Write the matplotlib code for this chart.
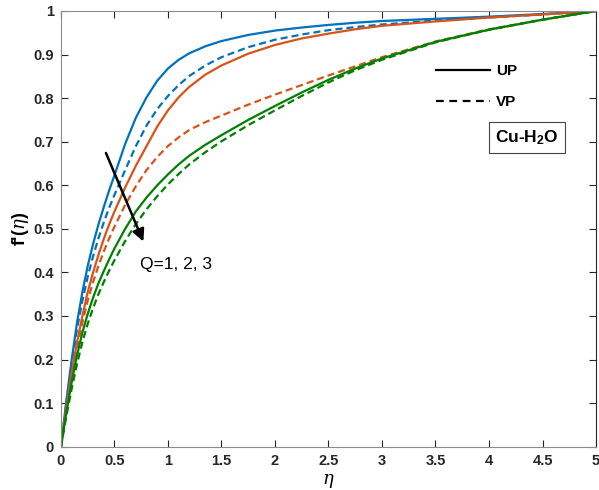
import matplotlib
matplotlib.use("Agg")
import matplotlib.pyplot as plt
from matplotlib.lines import Line2D

plt.rcParams['font.family'] = ['Liberation Sans', 'DejaVu Sans']
plt.rcParams['mathtext.fontset'] = 'custom'
plt.rcParams['mathtext.rm'] = 'Liberation Sans'
plt.rcParams['mathtext.bf'] = 'Liberation Sans:bold'
plt.rcParams['mathtext.it'] = 'DejaVu Serif:italic'

# eta values the curves were read at
eta = [0, 0.05, 0.1, 0.15, 0.2, 0.25, 0.3, 0.35, 0.4, 0.45, 0.5, 0.6, 0.7, 0.8, 0.9,
       1.0, 1.1, 1.2, 1.35, 1.5, 1.75, 2.0, 2.25, 2.5, 2.75, 3.0, 3.5, 4.0, 4.5, 5.0]

# Q=1 (blue), Q=2 (orange), Q=3 (green); UP solid, VP dashed
q1_up = [0, 0.105, 0.20, 0.285, 0.355, 0.415, 0.465, 0.51, 0.55, 0.588, 0.623, 0.695,
         0.755, 0.802, 0.84, 0.868, 0.888, 0.903, 0.919, 0.931, 0.945, 0.955, 0.962,
         0.968, 0.973, 0.977, 0.982, 0.987, 0.993, 1.0]
q1_vp = [0, 0.10, 0.19, 0.27, 0.335, 0.39, 0.437, 0.478, 0.515, 0.548, 0.578, 0.635,
         0.69, 0.737, 0.775, 0.805, 0.83, 0.851, 0.875, 0.894, 0.917, 0.934, 0.946,
         0.956, 0.963, 0.969, 0.978, 0.985, 0.992, 1.0]
q2_up = [0, 0.09, 0.17, 0.24, 0.30, 0.355, 0.40, 0.44, 0.477, 0.51, 0.54, 0.595,
         0.645, 0.69, 0.735, 0.772, 0.802, 0.826, 0.854, 0.875, 0.902, 0.922, 0.937,
         0.948, 0.958, 0.966, 0.976, 0.985, 0.992, 1.0]
q2_vp = [0, 0.085, 0.16, 0.228, 0.285, 0.335, 0.378, 0.415, 0.448, 0.478, 0.505, 0.555,
         0.598, 0.635, 0.665, 0.69, 0.71, 0.727, 0.745, 0.76, 0.785, 0.808, 0.83,
         0.852, 0.873, 0.894, 0.93, 0.958, 0.98, 1.0]
q3_up = [0, 0.078, 0.148, 0.21, 0.262, 0.305, 0.342, 0.375, 0.403, 0.43, 0.455, 0.50,
         0.54, 0.572, 0.60, 0.625, 0.648, 0.668, 0.693, 0.715, 0.75, 0.782, 0.813,
         0.842, 0.868, 0.891, 0.929, 0.957, 0.98, 1.0]
q3_vp = [0, 0.07, 0.133, 0.19, 0.24, 0.282, 0.318, 0.35, 0.378, 0.404, 0.428, 0.472,
         0.511, 0.545, 0.575, 0.602, 0.626, 0.648, 0.676, 0.701, 0.738, 0.772, 0.805,
         0.836, 0.864, 0.888, 0.928, 0.957, 0.98, 1.0]

blue = '#0072BD'
orange = '#D95319'
green = '#008000'
dash = (0, (3.2, 1.8))

fig = plt.figure(figsize=(5.99, 4.9), dpi=100)
ax = fig.add_axes([0.1018, 0.0884, 0.8932, 0.8892])

ax.plot(eta, q1_up, color=blue, lw=1.6)
ax.plot(eta, q1_vp, color=blue, lw=1.6, ls=dash)
ax.plot(eta, q2_up, color=orange, lw=1.6)
ax.plot(eta, q2_vp, color=orange, lw=1.6, ls=dash)
ax.plot(eta, q3_up, color=green, lw=1.6)
ax.plot(eta, q3_vp, color=green, lw=1.6, ls=dash)

ax.set_xlim(0, 5)
ax.set_ylim(0, 1)
ax.set_xticks([0, 0.5, 1, 1.5, 2, 2.5, 3, 3.5, 4, 4.5, 5])
ax.set_xticklabels(['0', '0.5', '1', '1.5', '2', '2.5', '3', '3.5', '4', '4.5', '5'])
ax.set_yticks([0, 0.1, 0.2, 0.3, 0.4, 0.5, 0.6, 0.7, 0.8, 0.9, 1])
ax.set_yticklabels(['0', '0.1', '0.2', '0.3', '0.4', '0.5', '0.6', '0.7', '0.8', '0.9', '1'])
ax.tick_params(direction='in', length=5, width=0.8, top=True, right=True,
               labelsize=10.5, pad=5, colors='#262626')
for lab in ax.get_xticklabels() + ax.get_yticklabels():
    lab.set_fontweight('bold')
for side in ['left', 'bottom', 'top']:
    ax.spines[side].set_color('#8c8c8c')
ax.spines['right'].set_color('#262626')

ax.set_xlabel(r'$\eta$', fontsize=13, labelpad=3)
ax.set_ylabel(r"f'($\eta$)", fontsize=13, fontweight='bold', labelpad=2)

# legend for plate types
handles = [Line2D([], [], color='k', lw=1.6),
           Line2D([], [], color='k', lw=1.6, ls=(0, (3.5, 2.5)))]
ax.legend(handles, ['UP', 'VP'], loc='upper left', bbox_to_anchor=(0.701, 0.878),
          frameon=False, handlelength=3.55, handletextpad=0.4, labelspacing=1.1,
          borderpad=0, borderaxespad=0, prop={'weight': 'bold', 'size': 11})

ax.text(4.355, 0.709, r'Cu-H$_\mathbf{2}$O', fontsize=12.5, fontweight='bold',
        ha='center', va='center',
        bbox=dict(boxstyle='square,pad=0.35', fc='white', ec='#444444', lw=0.8))

ax.annotate('', xy=(0.78, 0.465), xytext=(0.41, 0.68),
            arrowprops=dict(arrowstyle='-|>', color='k', lw=1.8, mutation_scale=18))
ax.text(0.74, 0.417, 'Q=1, 2, 3', fontsize=12.5, va='center', ha='left')

fig.savefig('out.png', dpi=100)
